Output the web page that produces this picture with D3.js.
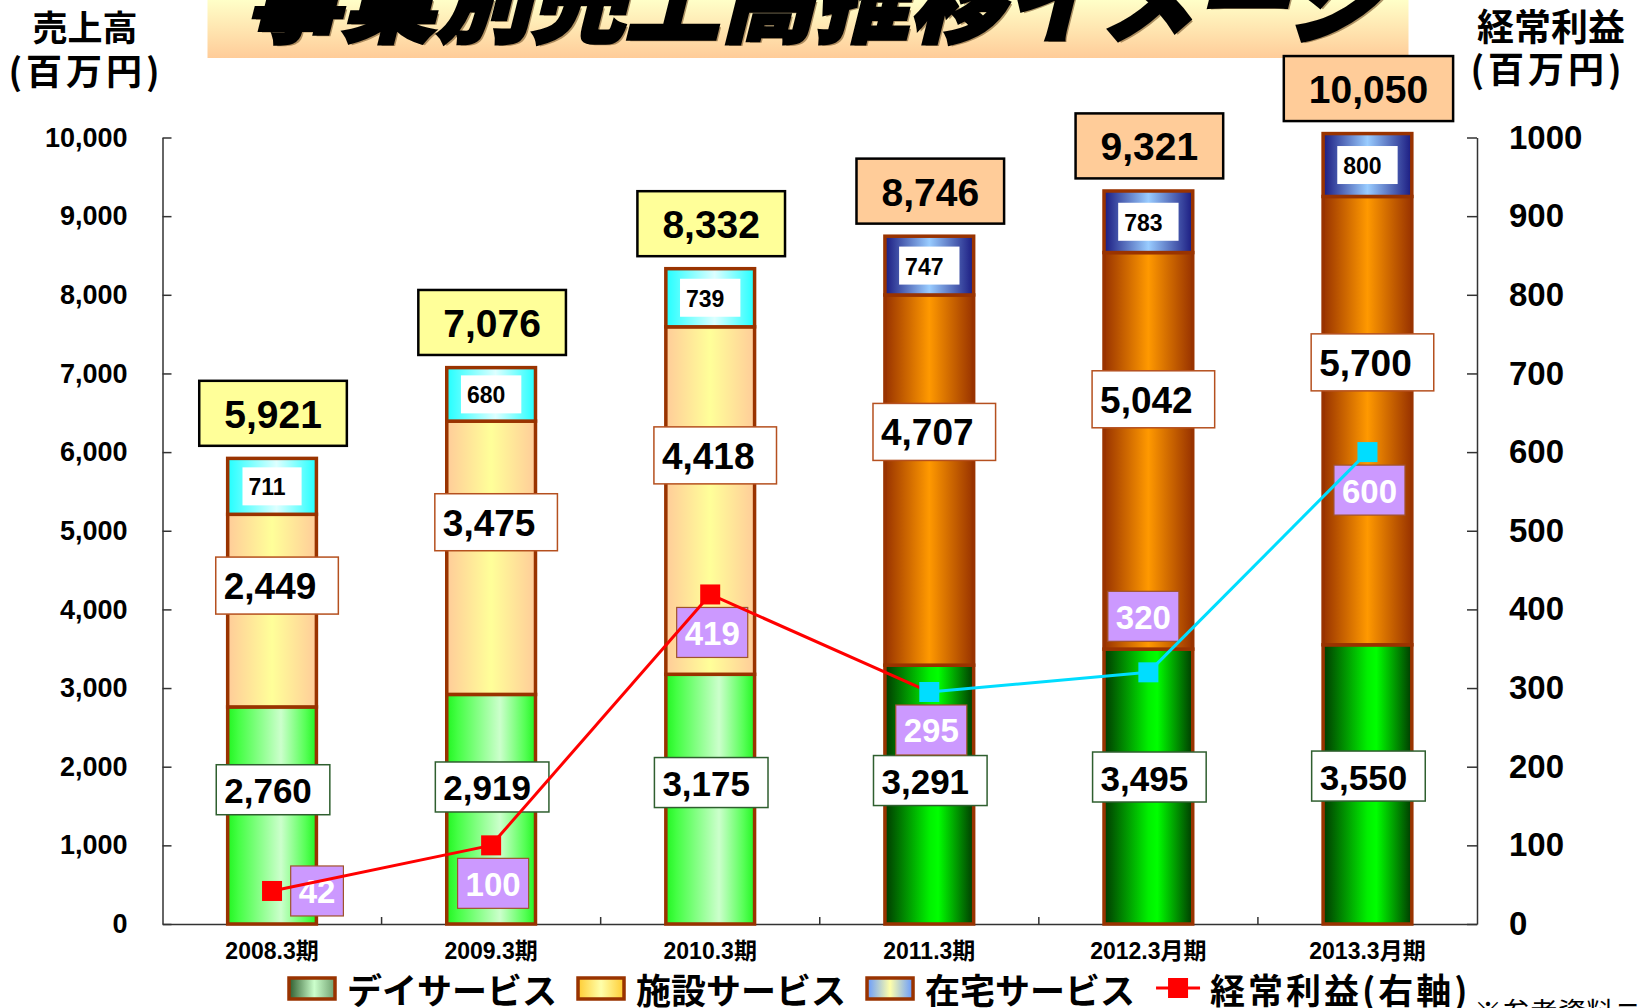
<!DOCTYPE html>
<html><head><meta charset="utf-8">
<script src="https://cdn.jsdelivr.net/npm/d3@7"></script>
<style>
html,body{margin:0;padding:0;background:#fff;}
svg{display:block;}
</style></head>
<body>
<svg id="chart" width="1643" height="1008"></svg>
<script>
// ---------- data ----------
const categories = ["2008.3期","2009.3期","2010.3期","2011.3期","2012.3月期","2013.3月期"];
const dayService = [2760, 2919, 3175, 3291, 3495, 3550];
const facilityService = [2449, 3475, 4418, 4707, 5042, 5700];
const homeService = [711, 680, 739, 747, 783, 800];
const totals = [5921, 7076, 8332, 8746, 9321, 10050];
const profit = [42, 100, 419, 295, 320, 600];
const leftTicks = [0,1000,2000,3000,4000,5000,6000,7000,8000,9000,10000];
const rightTicks = [0,100,200,300,400,500,600,700,800,900,1000];
const legendLabels = ["デイサービス","施設サービス","在宅サービス","経常利益(右軸)"];
const titleText = "事業別売上高推移イメージ";

// ---------- layout ----------
const svg = d3.select("#chart");
const plot = {left:162.5, right:1477, top:137.5, bottom:924};
const JP = "'Noto Sans CJK JP','Noto Sans',sans-serif";
const NUM = "'Liberation Sans',Arial,'Noto Sans CJK JP',sans-serif";
const fmt = d3.format(",");

const x = d3.scaleBand().domain(categories).range([plot.left, plot.right]).padding(0);
const yL = d3.scaleLinear().domain([0,10000]).range([plot.bottom, plot.top]);
const yR = d3.scaleLinear().domain([0,1000]).range([plot.bottom, plot.top]);
const barW = x.bandwidth()*0.405;
const isDark = i => i >= 3;

// ---------- gradients ----------
const defs = svg.append("defs");
function hGrad(id, stops){
  const g = defs.append("linearGradient").attr("id",id).attr("x1","0").attr("x2","1").attr("y1","0").attr("y2","0");
  stops.forEach(s=>g.append("stop").attr("offset",s[0]).attr("stop-color",s[1]));
}
hGrad("dayLight",[[0,"#22F522"],[0.12,"#44FF44"],[0.6,"#CCFFCC"],[0.88,"#55FF55"],[1,"#22F522"]]);
hGrad("dayDark",[[0,"#013a01"],[0.5,"#00F000"],[0.6,"#00FF00"],[1,"#013a01"]]);
hGrad("facLight",[[0,"#FFCC99"],[0.5,"#FFFF99"],[1,"#FFCC99"]]);
hGrad("facDark",[[0,"#993300"],[0.5,"#FF9900"],[1,"#993300"]]);
hGrad("homeLight",[[0,"#22FFFF"],[0.55,"#DDFFFF"],[1,"#22FFFF"]]);
hGrad("homeDark",[[0,"#1A1A80"],[0.5,"#99CCFF"],[1,"#1A1A80"]]);
hGrad("lgDay",[[0,"#2E5C2E"],[0.55,"#CCFFCC"],[1,"#6E9E6E"]]);
hGrad("lgFac",[[0,"#FFCC33"],[0.5,"#FFFFAA"],[1,"#FFCC33"]]);
hGrad("lgHome",[[0,"#6699FF"],[0.5,"#FFFFAA"],[1,"#6699FF"]]);
const tg = defs.append("linearGradient").attr("id","titleGrad").attr("x1","0").attr("x2","0").attr("y1","0").attr("y2","1");
tg.append("stop").attr("offset",0).attr("stop-color","#FFFFC8");
tg.append("stop").attr("offset",1).attr("stop-color","#FFCC99");

// ---------- title ----------
svg.append("rect").attr("x",207.5).attr("y",0).attr("width",1201).attr("height",58).attr("fill","url(#titleGrad)");
const tGroup = svg.append("g").attr("transform","translate(246,35) skewX(-14)");
tGroup.append("text").attr("x",3).attr("y",2).text(titleText)
  .attr("font-family",JP).attr("font-weight",900).attr("font-size",95)
  .attr("fill","#8a6a40").attr("opacity",0.7).attr("textLength",1135).attr("lengthAdjust","spacingAndGlyphs");
tGroup.append("text").attr("x",0).attr("y",0).text(titleText)
  .attr("font-family",JP).attr("font-weight",900).attr("font-size",95)
  .attr("fill","#000").attr("stroke","#000").attr("stroke-width",3)
  .attr("textLength",1135).attr("lengthAdjust","spacingAndGlyphs");

// ---------- axis titles ----------
function axTitle(t, cx, by, size, ls){
  svg.append("text").attr("x",cx).attr("y",by).attr("text-anchor","middle")
    .attr("font-family",JP).attr("font-weight",700).attr("font-size",size)
    .attr("letter-spacing",ls||0).attr("fill","#000").text(t);
}
axTitle("売上高",85,41,35);
axTitle("(百万円)",86,85,36,4);
axTitle("経常利益",1551,41,37);
axTitle("(百万円)",1548,83,36,4);

// ---------- axes ----------
const axL = svg.append("g").attr("transform",`translate(${plot.left},0)`)
  .call(d3.axisLeft(yL).tickValues(leftTicks).tickFormat(d3.format(",")).tickSizeInner(-9).tickSizeOuter(0).tickPadding(35));
axL.select(".domain").attr("stroke","#333").attr("stroke-width",1.5);
axL.selectAll(".tick line").attr("stroke","#333").attr("stroke-width",1.5);
axL.selectAll(".tick text").attr("font-family",NUM).attr("font-weight",700).attr("font-size",27).attr("fill","#000");

const axR = svg.append("g").attr("transform",`translate(${plot.right},0)`)
  .call(d3.axisRight(yR).tickValues(rightTicks).tickFormat(d3.format("d")).tickSizeInner(-10).tickSizeOuter(0).tickPadding(32));
axR.select(".domain").attr("stroke","#333").attr("stroke-width",1.5);
axR.selectAll(".tick line").attr("stroke","#333").attr("stroke-width",1.5);
axR.selectAll(".tick text").attr("font-family",NUM).attr("font-weight",700).attr("font-size",33).attr("fill","#000");

// x axis
const axB = svg.append("g").attr("transform",`translate(0,${plot.bottom})`)
  .call(d3.axisBottom(x).tickSize(0).tickPadding(19));
axB.select(".domain").attr("stroke","#333").attr("stroke-width",1.5);
axB.selectAll(".tick text").attr("font-family",NUM).attr("font-weight",700).attr("font-size",23).attr("fill","#000");
svg.append("g").selectAll("line").data(categories.slice(1)).join("line")
  .attr("x1",d=>x(d)).attr("x2",d=>x(d)).attr("y1",plot.bottom).attr("y2",plot.bottom-7)
  .attr("stroke","#333").attr("stroke-width",1.5);

// ---------- stacked bars ----------
const stackRows = categories.map((c,i)=>({cat:c, i, day:dayService[i], fac:facilityService[i], home:homeService[i]}));
const series = d3.stack().keys(["day","fac","home"])(stackRows);
const fills = {day:["dayLight","dayDark"], fac:["facLight","facDark"], home:["homeLight","homeDark"]};
const barG = svg.append("g");
series.forEach(s=>{
  barG.selectAll(null).data(s).join("rect")
    .attr("x",d=>x(d.data.cat)+x.bandwidth()/2-barW/2)
    .attr("y",d=>yL(d[1]))
    .attr("width",barW)
    .attr("height",d=>yL(d[0])-yL(d[1]))
    .attr("fill",d=>`url(#${fills[s.key][isDark(d.data.i)?1:0]})`)
    .attr("stroke","#993300").attr("stroke-width",3.5);
});

// ---------- value labels ----------
function boxLabel(g, cx, cy, text, o){
  const t = g.append("text").text(text).attr("font-family",NUM).attr("font-weight",700)
    .attr("font-size",o.size).attr("fill",o.color||"#000").attr("dominant-baseline","central");
  const tw = t.node().getComputedTextLength();
  const bw = tw + o.padL + o.padR;
  const bx = cx - bw/2;
  g.insert("rect","text").attr("x",bx).attr("y",cy-o.h/2).attr("width",bw).attr("height",o.h)
    .attr("fill",o.fill).attr("stroke",o.stroke||"none").attr("stroke-width",o.sw||0);
  t.attr("x",bx+o.padL).attr("y",cy+1);
  return g;
}
const labelsG = svg.append("g");
series[0].forEach(d=>{
  const cx = x(d.data.cat)+x.bandwidth()/2 + 1;
  const cy = yL(1100 + d[1]*0.22);
  boxLabel(labelsG.append("g"), cx, cy, fmt(d.data.day), {size:35, padL:8, padR:18, h:50, fill:"#fff", stroke:"#2F5F2F", sw:1.5});
});
series[1].forEach(d=>{
  const cx = x(d.data.cat)+x.bandwidth()/2 + 5;
  const cy = yL(d[0]+(d[1]-d[0])*0.63);
  boxLabel(labelsG.append("g"), cx, cy, fmt(d.data.fac), {size:37, padL:8, padR:22, h:57, fill:"#fff", stroke:"#B5501F", sw:1.5});
});
series[2].forEach(d=>{
  const cx = x(d.data.cat)+x.bandwidth()/2;
  const cy = (yL(d[0])+yL(d[1]))/2;
  boxLabel(labelsG.append("g"), cx, cy, fmt(d.data.home), {size:23, padL:6, padR:16, h:38, fill:"#fff"});
});
totals.forEach((v,i)=>{
  const cx = x(categories[i])+x.bandwidth()/2 + 1;
  const cy = yL(v) - 12 - 33;
  boxLabel(labelsG.append("g"), cx, cy, fmt(v), {size:39, padL:25, padR:25, h:65, fill:isDark(i)?"#FFCC99":"#FFFF99", stroke:"#000", sw:2.5});
});

// ---------- profit line ----------
const red = "#FF0000", cyan = "#00DDFF";
const pColor = i => isDark(i) ? cyan : red;
const px = i => x(categories[i])+x.bandwidth()/2;
const lineG = svg.append("g");
for(let i=0;i<profit.length-1;i++){
  lineG.append("path")
    .attr("d", d3.line()([[px(i),yR(profit[i])],[px(i+1),yR(profit[i+1])]]))
    .attr("stroke",pColor(i)).attr("stroke-width",3).attr("fill","none");
}
lineG.selectAll("rect").data(profit).join("rect")
  .attr("x",(d,i)=>px(i)-10).attr("y",d=>yR(d)-10).attr("width",20).attr("height",20)
  .attr("fill",(d,i)=>pColor(i));
const profitLabelPlace = ["right","below","below","below","above","below"];
profit.forEach((v,i)=>{
  let cx = px(i), cy = yR(v);
  const pl = profitLabelPlace[i];
  if(pl==="right"){ cx += 45; }
  else if(pl==="below"){ cy += 38; cx += 2; }
  else { cy -= 56; cx -= 5; }
  boxLabel(labelsG.append("g"), cx, cy, String(v), {size:33, padL:8, padR:8, h:50, fill:"#CC99FF", stroke:"#A0522D", sw:1.2, color:"#fff"});
});

// ---------- legend ----------
const legG = svg.append("g");
const legY = 988;
let lx = 289;
const swatches = ["lgDay","lgFac","lgHome"];
legendLabels.forEach((lab,k)=>{
  if(k<3){
    legG.append("rect").attr("x",lx).attr("y",legY-10).attr("width",46).attr("height",21)
      .attr("fill",`url(#${swatches[k]})`).attr("stroke","#993300").attr("stroke-width",3.5);
    lx += 58;
  } else {
    legG.append("line").attr("x1",lx).attr("x2",lx+44).attr("y1",legY).attr("y2",legY).attr("stroke",red).attr("stroke-width",3);
    legG.append("rect").attr("x",lx+12).attr("y",legY-10).attr("width",20).attr("height",20).attr("fill",red);
    lx += 54;
  }
  const t = legG.append("text").attr("x",lx).attr("y",legY).attr("dominant-baseline","central")
    .attr("font-family",JP).attr("font-weight",700).attr("font-size",35)
    .attr("letter-spacing",k===3?3:0).attr("fill","#000").text(lab);
  lx += t.node().getComputedTextLength() + 21;
});

svg.append("text").attr("x",1474).attr("y",1023).attr("font-family",JP).attr("font-weight",400)
  .attr("font-size",28).attr("fill","#000").text("※参考資料ニュース");
</script>
</body></html>
